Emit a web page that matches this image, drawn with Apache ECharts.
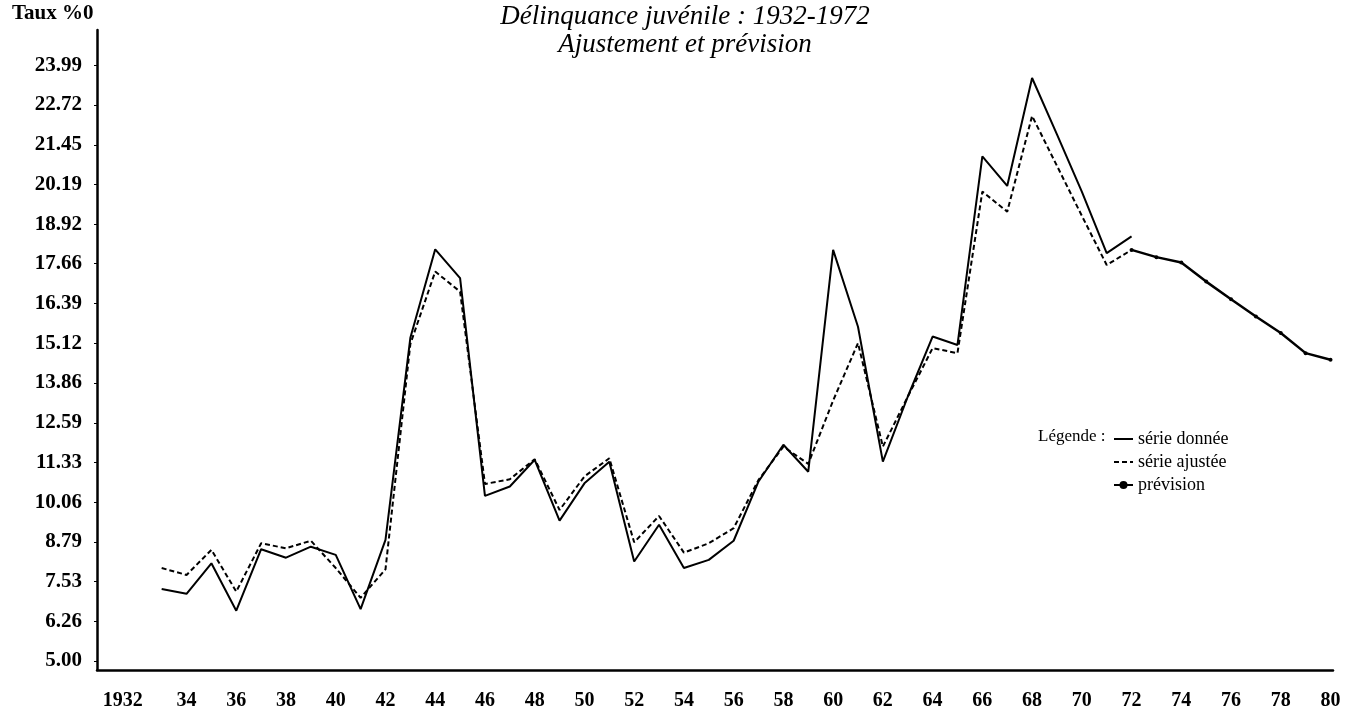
<!DOCTYPE html>
<html lang="fr">
<head>
  <meta charset="utf-8">
  <title>Délinquance juvénile : 1932-1972</title>
  <script src="https://cdn.jsdelivr.net/npm/echarts@6/dist/echarts.min.js"></script>
  <style>
    html, body { margin: 0; padding: 0; background: #fff; }
    #chart1 { width: 1351px; height: 715px; }
  </style>
</head>
<body>
<div id="chart1"></div>
<script>
  // données
  var annees = [1933, 1934, 1935, 1936, 1937, 1938, 1939, 1940, 1941, 1942,
                1943, 1944, 1945, 1946, 1947, 1948, 1949, 1950, 1951, 1952,
                1953, 1954, 1955, 1956, 1957, 1958, 1959, 1960, 1961, 1962,
                1963, 1964, 1965, 1966, 1967, 1968, 1969, 1970, 1971, 1972];
  var serieDonnee = [7.29, 7.14, 8.11, 6.60, 8.56, 8.29, 8.64, 8.38, 6.65, 8.86,
                     15.30, 18.12, 17.20, 10.26, 10.56, 11.41, 9.47, 10.66, 11.35, 8.17,
                     9.34, 7.96, 8.22, 8.83, 10.72, 11.89, 11.03, 18.10, 15.65, 11.35,
                     13.42, 15.34, 15.07, 21.08, 20.14, 23.58, 21.78, 19.96, 18.00, 18.53];
  var serieAjustee = [7.96, 7.74, 8.54, 7.21, 8.75, 8.59, 8.83, 7.96, 7.01, 7.92,
                      15.10, 17.41, 16.77, 10.64, 10.79, 11.43, 9.81, 10.88, 11.46, 8.78,
                      9.62, 8.45, 8.75, 9.23, 10.77, 11.83, 11.28, 13.30, 15.13, 11.83,
                      13.42, 14.97, 14.81, 19.96, 19.32, 22.37, 20.78, 19.19, 17.62, 18.10];
  var anneesPrev = [1972, 1973, 1974, 1975, 1976, 1977, 1978, 1979, 1980];
  var prevision = [18.10, 17.87, 17.70, 17.09, 16.53, 15.98, 15.45, 14.81, 14.60];

  var ticksX = [1932, 1934, 1936, 1938, 1940, 1942, 1944, 1946, 1948, 1950, 1952, 1954,
                1956, 1958, 1960, 1962, 1964, 1966, 1968, 1970, 1972, 1974, 1976, 1978, 1980];
  var ticksY = [5.00, 6.26, 7.53, 8.79, 10.06, 11.33, 12.59, 13.86, 15.12, 16.39,
                17.66, 18.92, 20.19, 21.45, 22.72, 23.99];

  function paires(xs, ys) {
    var out = [];
    for (var i = 0; i < xs.length; i++) out.push([xs[i], ys[i]]);
    return out;
  }

  var police = '"Liberation Serif", "DejaVu Serif", serif';
  var chart1 = echarts.init(document.getElementById('chart1'));

  var option = {
    backgroundColor: '#fff',
    animation: false,
    textStyle: { fontFamily: police, color: '#000' },
    title: {
      text: 'Délinquance juvénile : 1932-1972\nAjustement et prévision',
      left: 680,
      textAlign: 'center',
      top: -2,
      textStyle: {
        fontFamily: police, fontStyle: 'italic', fontWeight: 'normal',
        fontSize: 27, lineHeight: 28, color: '#000'
      }
    },
    graphic: [
      {
        type: 'text', left: 12, top: 3,
        style: { text: 'Taux %0', font: 'bold 21px ' + police, fill: '#000' }
      },
      {
        type: 'text', left: 1038, top: 428,
        style: { text: 'Légende :', font: '17px ' + police, fill: '#000' }
      }
    ],
    legend: {
      orient: 'vertical',
      left: 1108,
      top: 425,
      itemWidth: 19,
      itemHeight: 10,
      itemGap: 5,
      textStyle: { fontFamily: police, fontSize: 18, color: '#000' },
      data: [
        { name: 'série donnée', itemStyle: { opacity: 0 } },
        { name: 'série ajustée', itemStyle: { opacity: 0 } },
        { name: 'prévision' }
      ]
    },
    grid: { left: 97, right: 18, top: 30, bottom: 45, containLabel: false },
    xAxis: {
      type: 'value',
      min: 1930.4,
      max: 1980.1,
      axisLine: { lineStyle: { color: '#000', width: 2.5 } },
      axisTick: { show: false },
      splitLine: { show: false },
      axisLabel: {
        customValues: ticksX,
        margin: 21,
        fontFamily: police, fontSize: 20, fontWeight: 'bold', color: '#000',
        formatter: function (v) { return v === 1932 ? '{an|1932}' : String(v).slice(2); },
        rich: {
          an: { fontFamily: police, fontSize: 20, fontWeight: 'bold', color: '#000', padding: [0, 28, 0, 0] }
        }
      }
    },
    yAxis: {
      type: 'value',
      min: 4.71,
      max: 25.11,
      axisLine: { show: true, lineStyle: { color: '#000', width: 2.5 } },
      axisTick: { show: true, customValues: ticksY, length: 3, lineStyle: { color: '#000' } },
      splitLine: { show: false },
      axisLabel: {
        customValues: ticksY,
        margin: 15,
        fontFamily: police, fontSize: 21, fontWeight: 'bold', color: '#000',
        formatter: function (v) { return v.toFixed(2); }
      }
    },
    series: [
      {
        name: 'série donnée',
        type: 'line',
        symbol: 'none',
        data: paires(annees, serieDonnee),
        lineStyle: { color: '#000', width: 2 },
        itemStyle: { color: '#000' }
      },
      {
        name: 'série ajustée',
        type: 'line',
        symbol: 'none',
        data: paires(annees, serieAjustee),
        lineStyle: { color: '#000', width: 2, type: [5, 3] },
        itemStyle: { color: '#000' }
      },
      {
        name: 'prévision',
        type: 'line',
        symbol: 'circle',
        symbolSize: 4,
        data: paires(anneesPrev, prevision),
        lineStyle: { color: '#000', width: 2.5 },
        itemStyle: { color: '#000' }
      }
    ]
  };
  chart1.setOption(option);
</script>
</body>
</html>
